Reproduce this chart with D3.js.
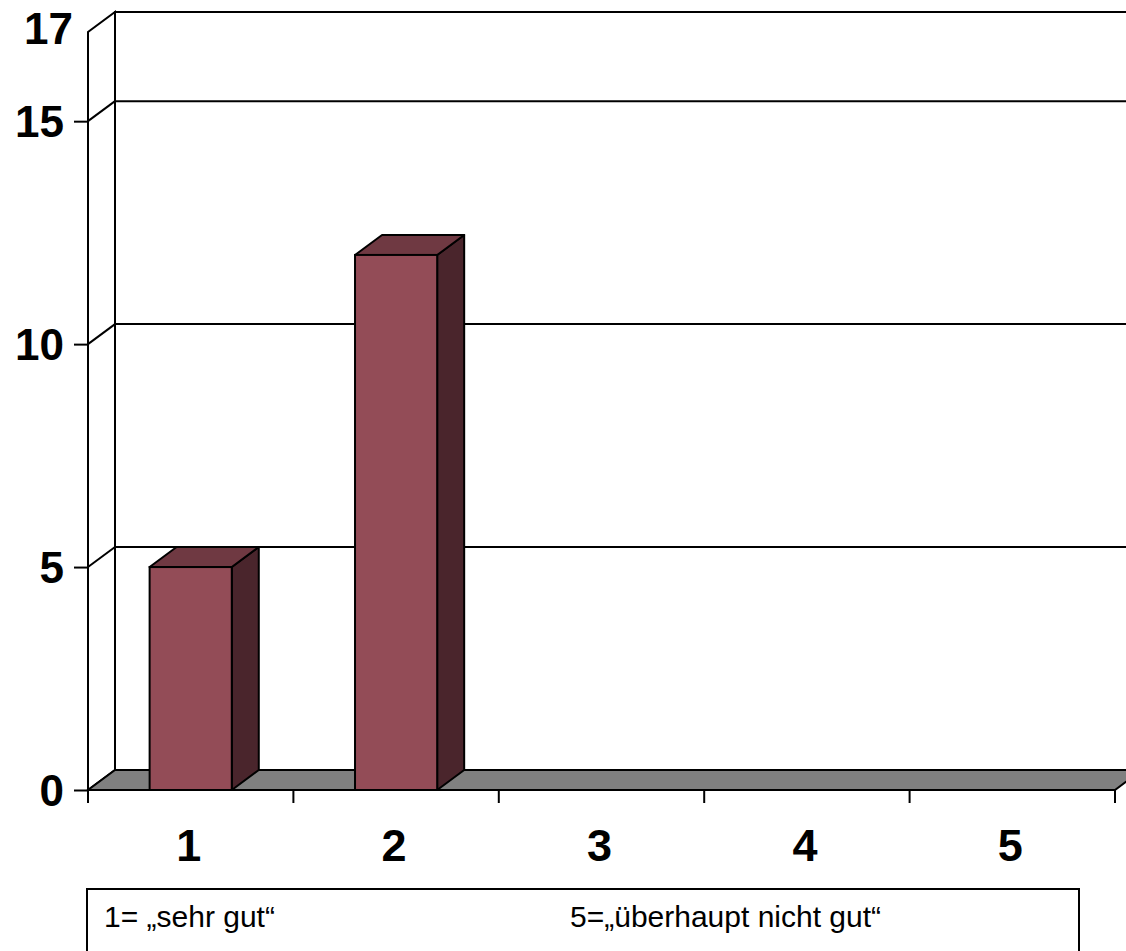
<!DOCTYPE html>
<html>
<head>
<meta charset="utf-8">
<script src="https://cdn.jsdelivr.net/npm/d3@7"></script>
<style>
  html, body { margin: 0; padding: 0; background: #fff; }
  svg { display: block; }
  text { font-family: Arial, "Liberation Sans", sans-serif; }
</style>
</head>
<body>
<svg id="chart" width="1126" height="951"></svg>
<script>
const categories = ["1", "2", "3", "4", "5"];
const values = [5, 12, 0, 0, 0];
const yTicks = [0, 5, 10, 15, 17];
const legendLabels = ["1= \u201Esehr gut\u201C", "5=\u201E\u00FCberhaupt nicht gut\u201C"];

const svg = d3.select("#chart");
const x0 = 88, x1 = 1115;
const yFront0 = 790, yFront17 = 32;
const DX = 27, DY = -20;

const x = d3.scaleBand().domain(categories).range([x0, x1]).padding(0);
const y = d3.scaleLinear().domain([0, 17]).range([yFront0, yFront17]);

const g = svg.append("g");

// Back wall
g.append("rect")
  .attr("x", x0 + DX).attr("y", y(17) + DY)
  .attr("width", (x1 - x0)).attr("height", y(0) - y(17))
  .attr("fill", "#fff").attr("stroke", "#000").attr("stroke-width", 2);

// Gridlines on back wall
g.selectAll("line.grid").data(yTicks.filter(d => d > 0 && d < 17)).enter()
  .append("line").attr("class", "grid")
  .attr("x1", x0 + DX).attr("x2", x1 + DX)
  .attr("y1", d => y(d) + DY).attr("y2", d => y(d) + DY)
  .attr("stroke", "#000").attr("stroke-width", 2);

// Left wall
g.append("path")
  .attr("d", `M${x0},${y(0)} L${x0},${y(17)} L${x0 + DX},${y(17) + DY} L${x0 + DX},${y(0) + DY} Z`)
  .attr("fill", "#fff").attr("stroke", "#000").attr("stroke-width", 2);
g.selectAll("line.diag").data(yTicks.filter(d => d > 0 && d < 17)).enter()
  .append("line").attr("class", "diag")
  .attr("x1", x0).attr("y1", d => y(d))
  .attr("x2", x0 + DX).attr("y2", d => y(d) + DY)
  .attr("stroke", "#000").attr("stroke-width", 2);

// Floor
g.append("path")
  .attr("d", `M${x0},${y(0)} L${x1},${y(0)} L${x1 + DX},${y(0) + DY} L${x0 + DX},${y(0) + DY} Z`)
  .attr("fill", "#808080").attr("stroke", "#000").attr("stroke-width", 2);

// Y axis (front)
const yAxis = d3.axisLeft(y).tickValues(yTicks).tickSize(14).tickFormat(d3.format("d"));
const ya = g.append("g").attr("transform", `translate(${x0},0)`).call(yAxis);
ya.select(".domain").remove();
ya.selectAll(".tick line").attr("stroke", "#000").attr("stroke-width", 2)
  .attr("display", d => d === 17 ? "none" : null);
ya.selectAll(".tick text")
  .attr("x", d => d === 17 ? -15 : -24)
  .attr("dy", d => d === 17 ? "0.25em" : "0.35em")
  .attr("font-size", 44).attr("font-weight", "bold").attr("fill", "#000")
  .style("font-family", "Arial, 'Liberation Sans', sans-serif");

// X axis ticks (front) at band boundaries
const bounds = categories.map(c => x(c)).concat([x1]);
g.selectAll("line.xtick").data(bounds).enter()
  .append("line").attr("class", "xtick")
  .attr("x1", d => d).attr("x2", d => d)
  .attr("y1", y(0)).attr("y2", y(0) + 13)
  .attr("stroke", "#000").attr("stroke-width", 2);
g.selectAll("text.xlab").data(categories).enter()
  .append("text").attr("class", "xlab")
  .attr("x", d => x(d) + x.bandwidth() / 2 - 2)
  .attr("y", 861)
  .attr("text-anchor", "middle")
  .attr("font-size", 45).attr("font-weight", "bold").attr("fill", "#000")
  .text(d => d);

// Bars
const barW = x.bandwidth() * 0.4;
const data = categories.map((c, i) => ({ c, v: values[i] })).filter(d => d.v > 0);
const bars = g.selectAll("g.bar").data(data).enter().append("g").attr("class", "bar");
bars.each(function(d) {
  const sel = d3.select(this);
  const bx = x(d.c) + (x.bandwidth() - barW) / 2;
  const bx2 = bx + barW;
  const yt = y(d.v), yb = y(0);
  sel.append("path")
    .attr("d", `M${bx2},${yb} L${bx2},${yt} L${bx2 + DX},${yt + DY} L${bx2 + DX},${yb + DY} Z`)
    .attr("fill", "#4A252C").attr("stroke", "#000").attr("stroke-width", 2).attr("stroke-linejoin", "round");
  sel.append("path")
    .attr("d", `M${bx},${yt} L${bx2},${yt} L${bx2 + DX},${yt + DY} L${bx + DX},${yt + DY} Z`)
    .attr("fill", "#6F3942").attr("stroke", "#000").attr("stroke-width", 2).attr("stroke-linejoin", "round");
  sel.append("rect")
    .attr("x", bx).attr("y", yt).attr("width", barW).attr("height", yb - yt)
    .attr("fill", "#934C57").attr("stroke", "#000").attr("stroke-width", 2);
});

// Legend box
const lg = svg.append("g");
lg.append("rect")
  .attr("x", 87).attr("y", 889).attr("width", 992).attr("height", 80)
  .attr("fill", "#fff").attr("stroke", "#000").attr("stroke-width", 2);
const legendX = [104, 570];
lg.selectAll("text").data(legendLabels).enter()
  .append("text")
  .attr("x", (d, i) => legendX[i]).attr("y", 927)
  .attr("font-size", 30).attr("fill", "#000")
  .text(d => d);
</script>
</body>
</html>
